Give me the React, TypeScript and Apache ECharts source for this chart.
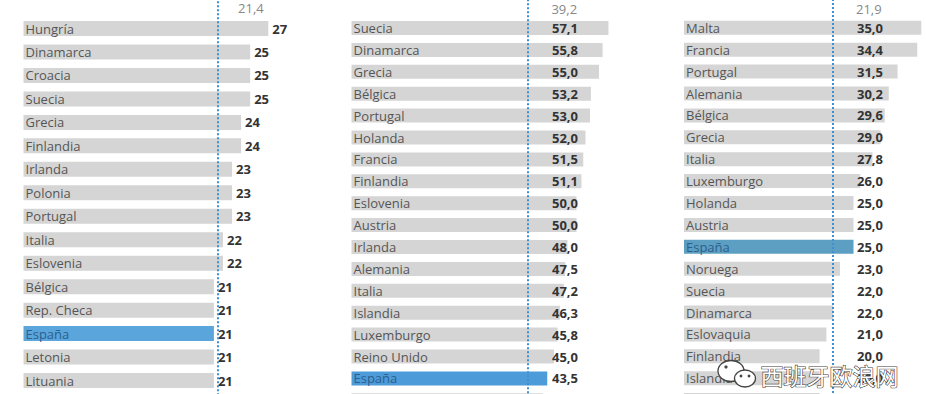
import React, { useEffect, useRef } from 'react';
import * as echarts from 'echarts';

// Panel 1
const countries1 = ['Hungría', 'Dinamarca', 'Croacia', 'Suecia', 'Grecia', 'Finlandia', 'Irlanda', 'Polonia', 'Portugal', 'Italia', 'Eslovenia', 'Bélgica', 'Rep. Checa', 'España', 'Letonia', 'Lituania'];
const values1 = [27, 25, 25, 25, 24, 24, 23, 23, 23, 22, 22, 21, 21, 21, 21, 21];
const avg1 = 21.4;

// Panel 2 (last row is cut off at the bottom of the picture)
const countries2 = ['Suecia', 'Dinamarca', 'Grecia', 'Bélgica', 'Portugal', 'Holanda', 'Francia', 'Finlandia', 'Eslovenia', 'Austria', 'Irlanda', 'Alemania', 'Italia', 'Islandia', 'Luxemburgo', 'Reino Unido', 'España', ''];
const values2 = [57.1, 55.8, 55.0, 53.2, 53.0, 52.0, 51.5, 51.1, 50.0, 50.0, 48.0, 47.5, 47.2, 46.3, 45.8, 45.0, 43.5, 42.5];
const avg2 = 39.2;

// Panel 3 (last row is cut off at the bottom of the picture)
const countries3 = ['Malta', 'Francia', 'Portugal', 'Alemania', 'Bélgica', 'Grecia', 'Italia', 'Luxemburgo', 'Holanda', 'Austria', 'España', 'Noruega', 'Suecia', 'Dinamarca', 'Eslovaquia', 'Finlandia', 'Islandia', ''];
const values3 = [35.0, 34.4, 31.5, 30.2, 29.6, 29.0, 27.8, 26.0, 25.0, 25.0, 25.0, 23.0, 22.0, 22.0, 21.0, 20.0, 20.0, 20.0];
const avg3 = 21.9;

const watermark = '西班牙欧浪网';

const FONT = '"Open Sans", "Noto Sans", sans-serif';

type Panel = {
  countries: string[];
  values: number[];
  avg: number;
  decimals: number;
  left: number;
  width: number;
  max: number;
  top: number;
  rowH: number;
  padBottom: number;
  barWidth: number;
  hl: string;
  labelX: number | null;
  avgDist: number;
};

const panels: Panel[] = [
  { countries: countries1, values: values1, avg: avg1, decimals: 0, left: 23.5, width: 272, max: 30, top: -6.7, rowH: 23.47, padBottom: 1, barWidth: 15, hl: '#5aa5dc', labelX: null, avgDist: 20 },
  { countries: countries2, values: values2, avg: avg2, decimals: 1, left: 351.5, width: 270, max: 60, top: -4.85, rowH: 21.9, padBottom: 0, barWidth: 14, hl: '#4e9bd9', labelX: 226.5, avgDist: 23 },
  { countries: countries3, values: values3, avg: avg3, decimals: 1, left: 684, width: 271.2, max: 40, top: -5.05, rowH: 21.9, padBottom: 0, barWidth: 14, hl: '#5d9fc2', labelX: 199, avgDist: 23 },
];

const fmt = (v: number, d: number) => v.toFixed(d).replace('.', ',');

export default function App() {
  const ref = useRef<HTMLDivElement>(null);
  useEffect(() => {
    if (!ref.current) return;
    const chart = echarts.init(ref.current, null, { renderer: 'svg' });
    const grid: any[] = [];
    const xAxis: any[] = [];
    const yAxis: any[] = [];
    const series: any[] = [];
    panels.forEach((p, i) => {
      const cats = ['', ...p.countries, ...Array(p.padBottom).fill('')];
      const rows = cats.length;
      grid.push({ left: p.left, width: p.width, top: p.top, height: rows * p.rowH, outerBoundsMode: 'none', containLabel: false });
      xAxis.push({ type: 'value', gridIndex: i, min: 0, max: p.max, show: false });
      yAxis.push({
        type: 'category', gridIndex: i, data: cats, inverse: true, z: 10,
        axisLine: { show: false }, axisTick: { show: false }, splitLine: { show: false },
        axisLabel: {
          inside: true, margin: 2, fontFamily: FONT, fontSize: 13, color: '#555',
          formatter: (v: string) => (v === 'España' ? '{h|' + v + '}' : v),
          rich: { h: { color: '#2c5f8c', fontFamily: FONT, fontSize: 13 } },
        },
      });
      const data: any[] = ['-'];
      p.values.forEach((v, k) => {
        const isEs = p.countries[k] === 'España';
        data.push({ value: v, itemStyle: { color: isEs ? p.hl : '#d5d5d5' } });
      });
      for (let k = 0; k < p.padBottom; k++) data.push('-');
      series.push({
        type: 'bar', xAxisIndex: i, yAxisIndex: i, data, barWidth: p.barWidth,
        label: p.labelX == null
          ? { show: true, position: 'right', distance: 4, fontFamily: FONT, fontSize: 13, fontWeight: 'bold', color: '#333', formatter: (o: any) => fmt(o.value, p.decimals) }
          : { show: true, position: [p.labelX, '50%'], align: 'right', verticalAlign: 'middle', fontFamily: FONT, fontSize: 13, fontWeight: 'bold', color: '#333', formatter: (o: any) => fmt(o.value, p.decimals) },
        markLine: {
          silent: true, symbol: ['none', 'none'], animation: false,
          lineStyle: { color: '#3f8fd2', width: 2, type: [2, 2] },
          label: { show: false },
          data: [{ xAxis: p.avg }],
        },
        markPoint: {
          silent: true, animation: false,
          data: [{
            coord: [p.avg, 0], symbol: 'circle', symbolSize: 1, itemStyle: { color: 'rgba(0,0,0,0)' },
            label: { show: true, position: 'right', distance: p.avgDist, offset: [0, 3], formatter: fmt(p.avg, 1), color: '#888', fontFamily: FONT, fontSize: 13 },
          }],
        },
      });
    });
    chart.setOption({
      animation: false,
      textStyle: { fontFamily: FONT },
      grid, xAxis, yAxis, series,
      graphic: [
        { type: 'ellipse', z: 100, shape: { cx: 731, cy: 371, rx: 13, ry: 10.5 }, style: { fill: '#fff', stroke: '#444', lineWidth: 1.3 } },
        { type: 'ellipse', z: 101, shape: { cx: 745, cy: 378.5, rx: 10.5, ry: 8.5 }, style: { fill: '#fff', stroke: '#444', lineWidth: 1.3 } },
        { type: 'circle', z: 102, shape: { cx: 726, cy: 367, r: 1.6 }, style: { fill: '#444' } },
        { type: 'circle', z: 102, shape: { cx: 741, cy: 376, r: 1.4 }, style: { fill: '#444' } },
        { type: 'circle', z: 102, shape: { cx: 749, cy: 376, r: 1.4 }, style: { fill: '#444' } },
        {
          type: 'text', z: 103, left: 760, top: 363,
          style: { text: watermark, font: '23px "Noto Sans CJK SC"', fill: '#fff', stroke: '#444', lineWidth: 1.2 },
        },
      ],
    });
    return () => chart.dispose();
  }, []);
  return <div ref={ref} style={{ position: 'fixed', left: 0, top: 0, width: 926, height: 394, background: '#fff' }} />;
}
